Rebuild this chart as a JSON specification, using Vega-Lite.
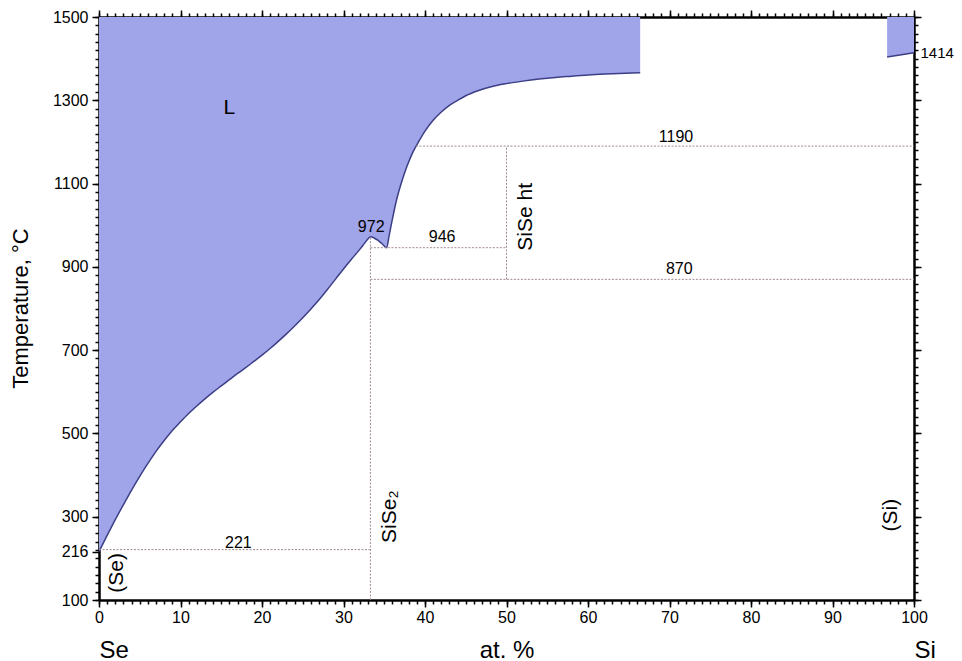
{
  "$schema": "https://vega.github.io/schema/vega-lite/v6.json",
  "width": 815,
  "height": 583,
  "autosize": {"type": "none"},
  "padding": {"left": 99, "top": 17, "right": 48, "bottom": 61},
  "background": "white",
  "config": {
    "view": {"stroke": null},
    "axis": {"domainColor": "#000", "tickColor": "#000", "labelColor": "#000", "titleColor": "#000", "labelFont": "Liberation Sans", "titleFont": "Liberation Sans", "grid": false, "domainWidth": 2, "tickWidth": 1.5, "labelFontSize": 16, "labelFontWeight": "normal", "titleFontWeight": "normal", "zindex": 1, "labelOverlap": false, "labelFlush": false},
    "text": {"font": "Liberation Sans", "color": "#000"}
  },
  "datasets": {
    "liq": [
      {"seg": "Se", "x": 0, "y": 216}, {"seg": "Se", "x": 1, "y": 255}, {"seg": "Se", "x": 2, "y": 293}, {"seg": "Se", "x": 3, "y": 329},
      {"seg": "Se", "x": 4, "y": 364}, {"seg": "Se", "x": 5, "y": 397}, {"seg": "Se", "x": 6, "y": 428}, {"seg": "Se", "x": 7, "y": 457},
      {"seg": "Se", "x": 8, "y": 483}, {"seg": "Se", "x": 9, "y": 507}, {"seg": "Se", "x": 10, "y": 528}, {"seg": "Se", "x": 11, "y": 548},
      {"seg": "Se", "x": 12, "y": 566}, {"seg": "Se", "x": 13, "y": 583}, {"seg": "Se", "x": 14, "y": 599}, {"seg": "Se", "x": 15, "y": 614},
      {"seg": "Se", "x": 16, "y": 629}, {"seg": "Se", "x": 17, "y": 644}, {"seg": "Se", "x": 18, "y": 658}, {"seg": "Se", "x": 19, "y": 673},
      {"seg": "Se", "x": 20, "y": 688}, {"seg": "Se", "x": 21, "y": 704}, {"seg": "Se", "x": 22, "y": 721}, {"seg": "Se", "x": 23, "y": 739},
      {"seg": "Se", "x": 24, "y": 758}, {"seg": "Se", "x": 25, "y": 778}, {"seg": "Se", "x": 26, "y": 799}, {"seg": "Se", "x": 27, "y": 821},
      {"seg": "Se", "x": 28, "y": 845}, {"seg": "Se", "x": 29, "y": 870}, {"seg": "Se", "x": 30, "y": 895}, {"seg": "Se", "x": 31, "y": 919},
      {"seg": "Se", "x": 32, "y": 942}, {"seg": "Se", "x": 32.6, "y": 957}, {"seg": "Se", "x": 33, "y": 967}, {"seg": "Se", "x": 33.3, "y": 972},
      {"seg": "Se", "x": 33.7, "y": 970}, {"seg": "Se", "x": 34.2, "y": 964}, {"seg": "Se", "x": 34.7, "y": 956}, {"seg": "Se", "x": 35.3, "y": 946},
      {"seg": "Se", "x": 35.6, "y": 975}, {"seg": "Se", "x": 35.9, "y": 1005}, {"seg": "Se", "x": 36.5, "y": 1060}, {"seg": "Se", "x": 37.2, "y": 1108},
      {"seg": "Se", "x": 37.8, "y": 1142}, {"seg": "Se", "x": 38.5, "y": 1175}, {"seg": "Se", "x": 39.2, "y": 1200}, {"seg": "Se", "x": 40, "y": 1226},
      {"seg": "Se", "x": 41, "y": 1252}, {"seg": "Se", "x": 42, "y": 1272}, {"seg": "Se", "x": 43, "y": 1288}, {"seg": "Se", "x": 44, "y": 1300},
      {"seg": "Se", "x": 45, "y": 1311}, {"seg": "Se", "x": 46.5, "y": 1323}, {"seg": "Se", "x": 48, "y": 1332}, {"seg": "Se", "x": 50, "y": 1340},
      {"seg": "Se", "x": 52, "y": 1346}, {"seg": "Se", "x": 54, "y": 1351}, {"seg": "Se", "x": 56, "y": 1355}, {"seg": "Se", "x": 58, "y": 1358},
      {"seg": "Se", "x": 60, "y": 1361}, {"seg": "Se", "x": 63, "y": 1363.5}, {"seg": "Se", "x": 66.4, "y": 1366},
      {"seg": "Si", "x": 96.7, "y": 1404}, {"seg": "Si", "x": 100, "y": 1414}
    ],
    "lines": [
      {"x1": 0, "x2": 33.3, "y1": 221, "y2": 221},
      {"x1": 33.3, "x2": 33.3, "y1": 100, "y2": 972},
      {"x1": 33.3, "x2": 50, "y1": 946, "y2": 946},
      {"x1": 33.3, "x2": 100, "y1": 870, "y2": 870},
      {"x1": 50, "x2": 50, "y1": 870, "y2": 1190},
      {"x1": 38.9, "x2": 100, "y1": 1190, "y2": 1190}
    ],
    "nums": [
      {"x": 17.1, "y": 238, "t": "221"},
      {"x": 33.4, "y": 996, "t": "972"},
      {"x": 42.1, "y": 971, "t": "946"},
      {"x": 70.8, "y": 1213, "t": "1190"},
      {"x": 71.2, "y": 894, "t": "870"}
    ],
    "rot": [
      {"x": 52.4, "y": 1020, "t": "SiSe ht"},
      {"x": 35.7, "y": 300, "t": "SiSe₂"},
      {"x": 2.2, "y": 165, "t": "(Se)"},
      {"x": 97.2, "y": 304, "t": "(Si)"}
    ],
    "big": [
      {"x": 16, "y": 1281, "t": "L"}
    ]
  },
  "resolve": {"axis": {"x": "independent", "y": "independent"}},
  "layer": [
    {
      "data": {"name": "liq"},
      "mark": {"type": "area", "color": "#a0a4e8", "opacity": 1, "interpolate": "monotone"},
      "encoding": {
        "x": {"field": "x", "type": "quantitative", "scale": {"domain": [0, 100], "nice": false, "zero": false},
          "axis": {"orient": "bottom", "values": [0, 10, 20, 30, 40, 50, 60, 70, 80, 90, 100], "tickSize": 7, "labelPadding": 2, "title": "at. %", "titleFontSize": 24, "titleY": 57, "titleBaseline": "alphabetic"}},
        "y": {"field": "y", "type": "quantitative", "scale": {"domain": [100, 1500], "nice": false, "zero": false},
          "axis": {"orient": "left", "values": [100, 216, 300, 500, 700, 900, 1100, 1300, 1500], "format": "d", "tickSize": 7, "labelPadding": 4, "title": "Temperature, °C", "titleFontSize": 22, "titleX": -72, "titleY": 291, "titleAngle": 270, "titleAlign": "center", "titleBaseline": "alphabetic"}},
        "y2": {"datum": 1500},
        "detail": {"field": "seg"}
      }
    },
    {
      "data": {"name": "liq"},
      "mark": {"type": "line", "color": "#3d3f86", "strokeWidth": 1.5, "interpolate": "monotone"},
      "encoding": {
        "x": {"field": "x", "type": "quantitative", "scale": {"domain": [0, 100], "nice": false, "zero": false},
          "axis": {"orient": "bottom", "values": [0,1,2,3,4,5,6,7,8,9,10,11,12,13,14,15,16,17,18,19,20,21,22,23,24,25,26,27,28,29,30,31,32,33,34,35,36,37,38,39,40,41,42,43,44,45,46,47,48,49,50,51,52,53,54,55,56,57,58,59,60,61,62,63,64,65,66,67,68,69,70,71,72,73,74,75,76,77,78,79,80,81,82,83,84,85,86,87,88,89,90,91,92,93,94,95,96,97,98,99,100], "tickSize": 4, "labels": false, "title": null}},
        "y": {"field": "y", "type": "quantitative", "scale": {"domain": [100, 1500], "nice": false, "zero": false},
          "axis": {"orient": "left", "values": [100,120,140,160,180,200,220,240,260,280,300,320,340,360,380,400,420,440,460,480,500,520,540,560,580,600,620,640,660,680,700,720,740,760,780,800,820,840,860,880,900,920,940,960,980,1000,1020,1040,1060,1080,1100,1120,1140,1160,1180,1200,1220,1240,1260,1280,1300,1320,1340,1360,1380,1400,1420,1440,1460,1480,1500], "tickSize": 4, "labels": false, "title": null}},
        "detail": {"field": "seg"}
      }
    },
    {
      "data": {"name": "lines"},
      "mark": {"type": "rule", "color": "#a08a90", "strokeWidth": 1, "strokeDash": [2, 1.5]},
      "encoding": {
        "x": {"field": "x1", "type": "quantitative", "scale": {"domain": [0, 100], "nice": false, "zero": false},
          "axis": {"orient": "top", "values": [0,1,2,3,4,5,6,7,8,9,10,11,12,13,14,15,16,17,18,19,20,21,22,23,24,25,26,27,28,29,30,31,32,33,34,35,36,37,38,39,40,41,42,43,44,45,46,47,48,49,50,51,52,53,54,55,56,57,58,59,60,61,62,63,64,65,66,67,68,69,70,71,72,73,74,75,76,77,78,79,80,81,82,83,84,85,86,87,88,89,90,91,92,93,94,95,96,97,98,99,100], "tickSize": 4, "labels": false, "title": null}},
        "x2": {"field": "x2"},
        "y": {"field": "y1", "type": "quantitative", "scale": {"domain": [100, 1500], "nice": false, "zero": false},
          "axis": {"orient": "right", "values": [100,120,140,160,180,200,220,240,260,280,300,320,340,360,380,400,420,440,460,480,500,520,540,560,580,600,620,640,660,680,700,720,740,760,780,800,820,840,860,880,900,920,940,960,980,1000,1020,1040,1060,1080,1100,1120,1140,1160,1180,1200,1220,1240,1260,1280,1300,1320,1340,1360,1380,1400,1420,1440,1460,1480,1500], "tickSize": 4, "labels": false, "title": null}},
        "y2": {"field": "y2"}
      }
    },
    {
      "data": {"name": "nums"},
      "mark": {"type": "text", "fontSize": 16, "align": "center", "baseline": "middle"},
      "encoding": {
        "x": {"field": "x", "type": "quantitative", "scale": {"domain": [0, 100], "nice": false, "zero": false},
          "axis": {"orient": "top", "values": [0, 10, 20, 30, 40, 50, 60, 70, 80, 90, 100], "tickSize": 7, "labels": false, "title": null}},
        "y": {"field": "y", "type": "quantitative", "scale": {"domain": [100, 1500], "nice": false, "zero": false},
          "axis": {"orient": "right", "values": [100, 300, 500, 700, 900, 1100, 1300, 1500], "tickSize": 7, "labels": false, "title": null}},
        "text": {"field": "t"}
      }
    },
    {
      "data": {"name": "rot"},
      "mark": {"type": "text", "fontSize": 21, "align": "center", "baseline": "middle", "angle": 270},
      "encoding": {
        "x": {"field": "x", "type": "quantitative", "scale": {"domain": [0, 100], "nice": false, "zero": false},
          "axis": {"orient": "bottom", "values": [0, 100], "ticks": false, "tickSize": 0, "domain": false, "labelExpr": "datum.value == 0 ? 'Se' : 'Si'", "labelAlign": "left", "labelBaseline": "alphabetic", "labelPadding": 57, "labelFontSize": 24, "title": null}},
        "y": {"field": "y", "type": "quantitative", "scale": {"domain": [100, 1500], "nice": false, "zero": false},
          "axis": {"orient": "right", "values": [1414], "format": "d", "ticks": false, "tickSize": 0, "domain": false, "labelPadding": 6, "labelFontSize": 15, "labelBaseline": "middle", "title": null}},
        "text": {"field": "t"}
      }
    },
    {
      "data": {"name": "big"},
      "mark": {"type": "text", "fontSize": 21, "align": "center", "baseline": "middle"},
      "encoding": {
        "x": {"field": "x", "type": "quantitative", "scale": {"domain": [0, 100], "nice": false, "zero": false}, "axis": null},
        "y": {"field": "y", "type": "quantitative", "scale": {"domain": [100, 1500], "nice": false, "zero": false}, "axis": null},
        "text": {"field": "t"}
      }
    }
  ]
}
